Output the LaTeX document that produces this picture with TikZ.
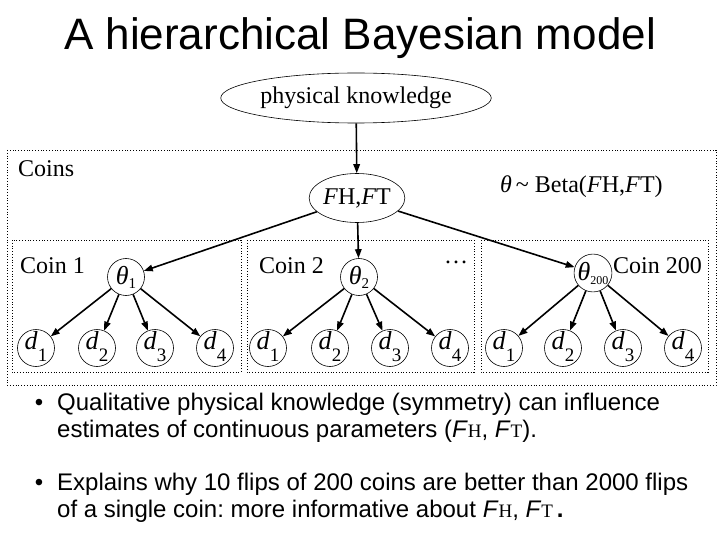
\documentclass[tikz,border=0pt]{standalone}
\usepackage{fontspec}
\setmainfont{Liberation Serif}
\newfontfamily\sansf{Liberation Sans}
\usetikzlibrary{arrows.meta,shapes.geometric}
\frenchspacing
\newcommand\dvar[1]{\raisebox{-1pt}{\textit{d}\raisebox{-12pt}{\fontsize{19}{19}\selectfont #1}}}
\newcommand\thv[2]{\textit{θ}\raisebox{-4pt}{\fontsize{#2}{#2}\selectfont #1}}
\newcommand\smH{{\rmfamily\fontsize{19}{19}\selectfont H}}
\newcommand\smT{{\rmfamily\fontsize{19}{19}\selectfont T}}
\tikzset{
 arr/.style={line width=1.6pt, -{Triangle[length=9pt,width=6.5pt]}},
 varnode/.style={circle, draw, line width=0.6pt, minimum size=37pt, inner sep=0pt, font=\fontsize{26}{26}\selectfont},
 datanode/.style={varnode, text height=0pt, text depth=0pt},
 ell/.style={ellipse, draw, line width=0.6pt, inner sep=0pt, font=\fontsize{24}{24}\selectfont},
 plate/.style={draw, dotted, line width=0.8pt},
 lab/.style={font=\fontsize{24}{28}\selectfont, inner sep=0pt},
 bul/.style={font=\sansf\fontsize{24}{27}\selectfont, anchor=base west, inner sep=0pt},
 dot/.style={font=\sansf\fontsize{24}{27}\selectfont, anchor=base, inner sep=0pt}
}
\begin{document}
\begin{tikzpicture}[x=1pt,y=-1pt]
\useasboundingbox (0,0) rectangle (720,540);
% title
\node[font=\sansf\fontsize{44}{44}\selectfont, anchor=base, inner sep=0pt] (title) at (360,50) {A hierarchical Bayesian model};
% plates
\draw[plate] (7,150) rectangle (716,385);
\draw[plate] (12,240) rectangle (241,372);
\draw[plate] (247,240) rectangle (474,372);
\draw[plate] (481,240) rectangle (708,372);
% labels
\node[lab, anchor=west] (lcoins) at (18,169) {Coins};
\node[lab, anchor=west] (lc1) at (20,266) {Coin 1};
\node[lab, anchor=west] (lc2) at (259,266) {Coin 2};
\node[lab, anchor=west] (lc200) at (613,266) {Coin 200};
\node[lab] (dots) at (456,262) {…};
\node[lab, anchor=west] (beta) at (500,187) {\textit{θ}\,\textasciitilde\ Beta(\textit{F}H,\textit{F}T)};
% top nodes
\node[ell, minimum width=229pt, minimum height=50pt] (pk) at (356,98) {physical knowledge};
\node[ell, minimum width=78pt, minimum height=49pt] (fh) at (357,198) {\textit{F}H,\textit{F}T};
% thetas
\node[varnode] (t1) at (126,277) {\thv{1}{15}};
\node[varnode] (t2) at (359,277) {\thv{2}{15}};
\node[varnode] (t200) at (593,273) {\thv{200}{12}};
% data
\foreach \x/\i/\n in {36/1/a1,97/2/a2,155/3/a3,215/4/a4,268/1/b1,330/2/b2,390/3/b3,450/4/b4,504/1/c1,563/2/c2,623/3/c3,683/4/c4}
  \node[datanode] (\n) at (\x,348) {\dvar{\i}};
% arrows
\draw[arr] (pk) -- (fh);
\draw[arr] (fh) -- (t1);
\draw[arr] (fh) -- (t2);
\draw[arr] (fh) -- (t200);
\foreach \n in {a1,a2,a3,a4} \draw[arr] (t1) -- (\n);
\foreach \n in {b1,b2,b3,b4} \draw[arr] (t2) -- (\n);
\foreach \n in {c1,c2,c3,c4} \draw[arr] (t200) -- (\n);
% bullets
\node[dot] (b1d) at (39,410) {•};
\node[bul] (b1l1) at (57,410) {Qualitative physical knowledge (symmetry) can influence};
\node[bul] (b1l2) at (57,437) {estimates of continuous parameters (\textit{F}\smH, \textit{F}\smT).};
\node[dot] (b2d) at (39,490) {•};
\node[bul] (b2l1) at (57,490) {Explains why 10 flips of 200 coins are better than 2000 flips};
\node[bul] (b2l2) at (57,517) {of a single coin: more informative about \textit{F}\smH, \textit{F}\smT\,\textbf{.}};
\end{tikzpicture}
\end{document}
